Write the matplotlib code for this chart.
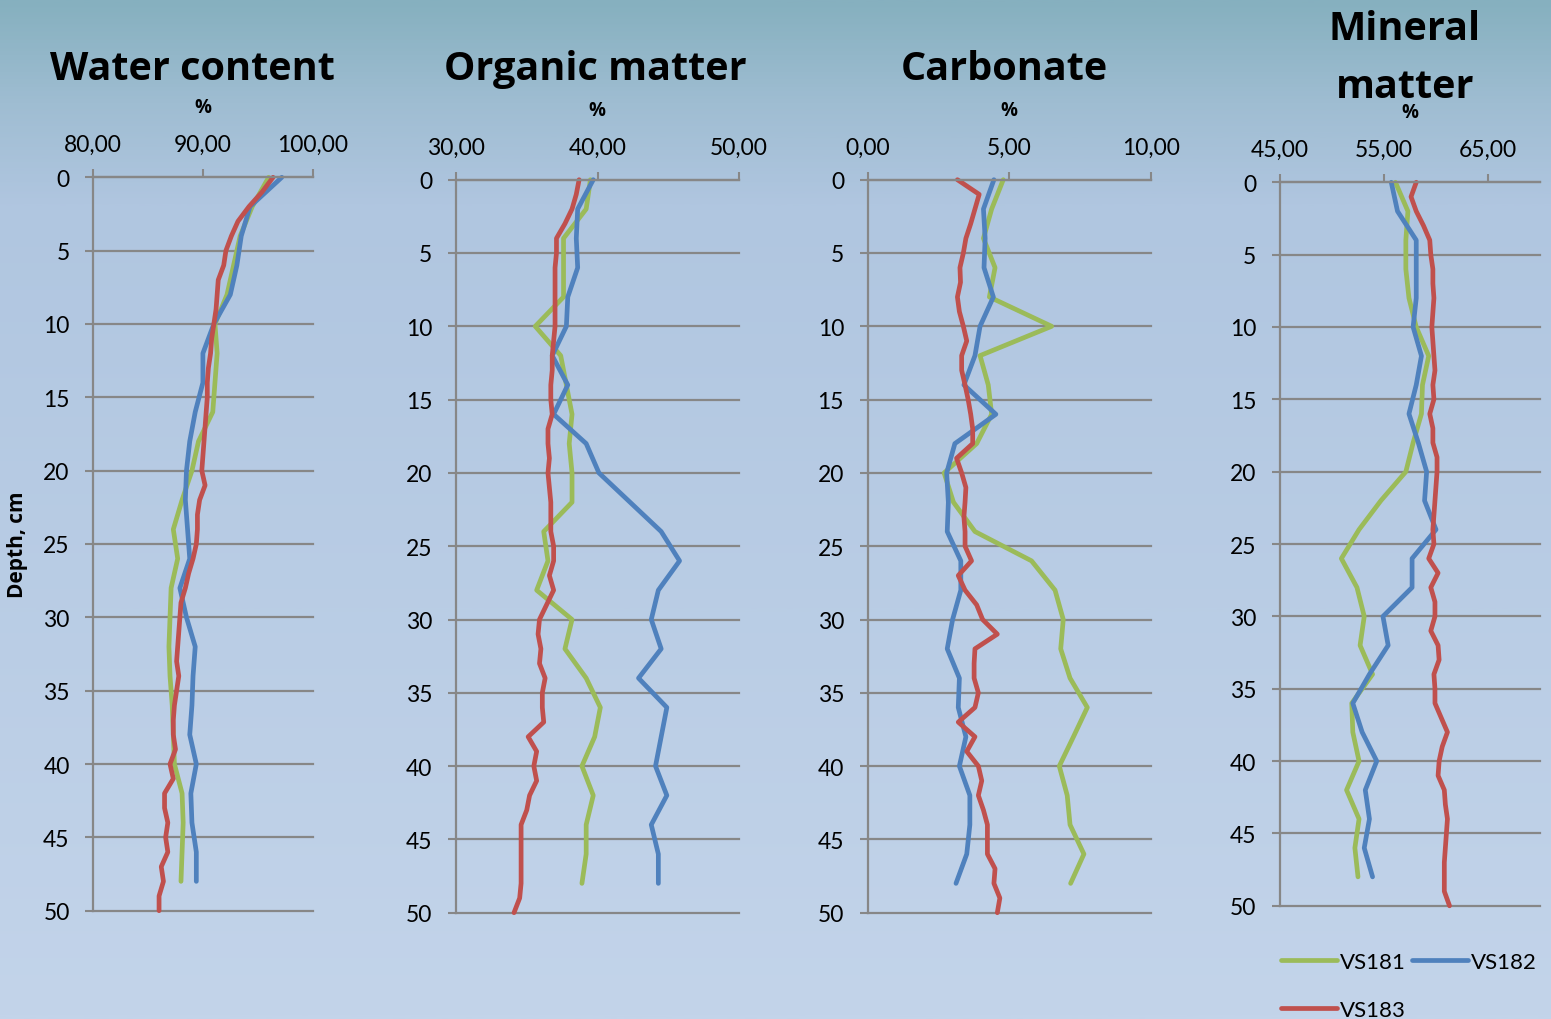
import numpy as np
import matplotlib
matplotlib.use("Agg")
import matplotlib.pyplot as plt
from matplotlib.colors import LinearSegmentedColormap
from matplotlib.lines import Line2D

# ---------------- data ----------------
series_names = ["VS181", "VS182", "VS183"]
series_colors = ["#9BBB59", "#4F81BD", "#C0504D"]

depth_2cm = [0, 2, 4, 6, 8, 10, 12, 14, 16, 18, 20, 22, 24, 26, 28, 30, 32, 34, 36, 38, 40, 42, 44, 46, 48]
depth_1cm = [0, 1, 2, 3, 4, 5, 6, 7, 8, 9, 10, 11, 12, 13, 14, 15, 16, 17, 18, 19, 20, 21, 22, 23, 24, 25,
             26, 27, 28, 29, 30, 31, 32, 33, 34, 35, 36, 37, 38, 39, 40, 41, 42, 43, 44, 45, 46, 47, 48, 49, 50]

water_vs181 = [96.0, 94.5, 93.4, 92.8, 92.2, 91.1, 91.3, 91.1, 90.9, 89.6, 89.0, 88.1, 87.3, 87.7, 87.1,
               87.0, 86.9, 87.0, 87.2, 87.3, 87.4, 88.1, 88.2, 88.1, 88.0]
water_vs182 = [97.2, 94.3, 93.5, 93.1, 92.5, 91.0, 90.0, 90.0, 89.3, 88.8, 88.5, 88.4, 88.6, 88.8, 87.9,
               88.5, 89.3, 89.1, 89.0, 88.8, 89.4, 88.9, 89.0, 89.4, 89.4]
water_vs183 = [96.4, 95.4, 94.2, 93.2, 92.6, 92.1, 91.9, 91.4, 91.3, 91.2,
               91.0, 90.8, 90.7, 90.5, 90.4, 90.4, 90.3, 90.2, 90.1, 90.0,
               89.9, 90.2, 89.7, 89.5, 89.5, 89.4, 89.1, 88.7, 88.4, 88.0,
               87.9, 87.8, 87.7, 87.6, 87.8, 87.6, 87.4, 87.3, 87.3, 87.5,
               87.0, 87.3, 86.5, 86.5, 86.8, 86.6, 86.8, 86.2, 86.4, 86.0, 86.0]

organic_vs181 = [39.5, 39.2, 37.6, 37.6, 37.6, 35.6, 37.4, 37.8, 38.2, 38.0, 38.2, 38.2, 36.2, 36.5, 35.7,
                 38.2, 37.7, 39.2, 40.2, 39.8, 38.9, 39.7, 39.2, 39.2, 38.9]
organic_vs182 = [39.7, 38.6, 38.5, 38.6, 37.9, 37.8, 36.8, 37.9, 36.9, 39.2, 40.1, 42.3, 44.5, 45.8, 44.3,
                 43.8, 44.5, 42.9, 44.9, 44.5, 44.1, 44.9, 43.8, 44.3, 44.3]
organic_vs183 = [38.7, 38.5, 38.2, 37.7, 37.1, 37.1, 37.0, 37.0, 37.0, 37.0,
                 37.0, 36.9, 36.8, 36.8, 36.7, 36.7, 36.8, 36.5, 36.5, 36.6,
                 36.5, 36.6, 36.7, 36.7, 36.7, 36.9, 36.9, 36.6, 36.9, 36.4,
                 35.9, 35.8, 36.0, 35.9, 36.3, 36.1, 36.1, 36.2, 35.1, 35.7,
                 35.5, 35.7, 35.2, 35.0, 34.6, 34.6, 34.6, 34.6, 34.6, 34.5, 34.1]

carbonate_vs181 = [4.79, 4.38, 4.09, 4.50, 4.30, 6.50, 3.97, 4.26, 4.38, 3.85, 2.70, 3.03, 3.79, 5.79, 6.62,
                   6.91, 6.82, 7.15, 7.76, 7.27, 6.77, 7.05, 7.15, 7.64, 7.17]
carbonate_vs182 = [4.46, 4.09, 4.15, 4.11, 4.44, 3.97, 3.79, 3.40, 4.53, 3.08, 2.79, 2.85, 2.81, 3.29, 3.29,
                   3.00, 2.81, 3.24, 3.20, 3.47, 3.24, 3.61, 3.61, 3.50, 3.12]
carbonate_vs183 = [3.17, 3.94, 3.79, 3.64, 3.47, 3.38, 3.26, 3.28, 3.17, 3.24,
                   3.38, 3.50, 3.32, 3.32, 3.44, 3.55, 3.64, 3.71, 3.71, 3.14,
                   3.32, 3.47, 3.44, 3.40, 3.44, 3.44, 3.67, 3.20, 3.44, 3.85,
                   4.06, 4.58, 3.79, 3.76, 3.76, 3.91, 3.79, 3.20, 3.79, 3.50,
                   3.91, 4.03, 3.91, 4.09, 4.23, 4.23, 4.23, 4.50, 4.46, 4.67, 4.58]

mineral_vs181 = [56.1, 57.3, 57.1, 57.1, 57.4, 58.1, 59.3, 58.7, 58.6, 57.8, 57.1, 54.7, 52.6, 50.9, 52.4,
                 53.1, 52.7, 53.9, 51.9, 52.0, 52.6, 51.4, 52.6, 52.2, 52.5]
mineral_vs182 = [55.7, 56.3, 58.1, 58.1, 58.1, 57.8, 58.6, 58.1, 57.4, 58.3, 59.1, 58.9, 60.0, 57.7, 57.7,
                 54.9, 55.4, 53.6, 52.0, 52.9, 54.3, 53.2, 53.6, 53.1, 53.9]
mineral_vs183 = [58.1, 57.6, 58.1, 58.8, 59.4, 59.5, 59.7, 59.7, 59.8, 59.7,
                 59.6, 59.7, 59.8, 59.9, 59.7, 59.8, 59.4, 59.7, 59.7, 60.1,
                 60.1, 60.0, 59.9, 59.8, 59.7, 59.8, 59.3, 60.2, 59.5, 59.9,
                 59.9, 59.5, 60.2, 60.3, 59.8, 59.9, 59.9, 60.5, 61.1, 60.6,
                 60.3, 60.2, 60.8, 60.9, 61.1, 61.0, 60.9, 60.8, 60.8, 60.8, 61.3]

titles = [["Water content"], ["Organic matter"], ["Carbonate"], ["Mineral", "matter"]]
x_ticks = [[80, 90, 100], [30, 40, 50], [0, 5, 10], [45, 55, 65]]
x_limits = [(80, 100), (30, 50), (0, 10), (45, 70)]
depth_ticks = [0, 5, 10, 15, 20, 25, 30, 35, 40, 45, 50]
panel_data = [
    (water_vs181, water_vs182, water_vs183),
    (organic_vs181, organic_vs182, organic_vs183),
    (carbonate_vs181, carbonate_vs182, carbonate_vs183),
    (mineral_vs181, mineral_vs182, mineral_vs183),
]

# ---------------- layout ----------------
W, H = 1551, 1020
fig = plt.figure(figsize=(W / 100, H / 100), dpi=100)

bg = fig.add_axes([0, 0, 1, 1], zorder=-10)
cmap = LinearSegmentedColormap.from_list(
    "bg", [(0, "#86B0BF"), (0.10, "#9FBDD2"), (0.2, "#B0C6E0"), (1, "#C3D4EA")])
bg.imshow(np.linspace(0, 1, 600).reshape(-1, 1), aspect="auto", cmap=cmap,
          extent=[0, 1, 0, 1], origin="upper")
bg.axis("off")

rects = [(93.3, 178.3, 312.5, 911.7), (456, 180.7, 739, 913.7),
         (867.7, 180.7, 1150.7, 913.7), (1280, 183.3, 1540, 906.8)]
title_x = [192, 595, 1004, 1405]
title_baselines = [[80], [80], [80], [40, 98]]
pct_pos = [(203, 113), (597, 116), (1009, 116), (1410, 118)]

GRID = "#878787"
TICKFONT = "Lato"
TITLEFONT = "Open Sans"

for i in range(4):
    x0, y0, x1, y1 = rects[i]
    ax = fig.add_axes([x0 / W, 1 - y1 / H, (x1 - x0) / W, (y1 - y0) / H])
    ax.set_facecolor("none")
    ax.set_xlim(*x_limits[i])
    ax.set_ylim(50, 0)
    ax.xaxis.tick_top()
    ax.set_xticks(x_ticks[i])
    ax.set_xticklabels([f"{v:.2f}".replace(".", ",") for v in x_ticks[i]],
                       fontfamily=TICKFONT, fontsize=16.5)
    ax.set_yticks(depth_ticks)
    ax.set_yticklabels([str(d) for d in depth_ticks], fontfamily=TICKFONT, fontsize=16.5)
    ax.tick_params(axis="both", color=GRID, width=1.5, length=6, direction="out")
    ax.tick_params(axis="x", pad=10)
    ax.tick_params(axis="y", pad=11)
    ax.grid(axis="y", color=GRID, lw=1.6, clip_on=False)
    ax.set_axisbelow(True)
    for s in ["right", "bottom"]:
        ax.spines[s].set_visible(False)
    for s in ["left", "top"]:
        ax.spines[s].set_color(GRID)
        ax.spines[s].set_linewidth(1.6)

    v181, v182, v183 = panel_data[i]
    ax.plot(v181, depth_2cm, color=series_colors[0], lw=3.4, solid_capstyle="round", clip_on=False)
    ax.plot(v182, depth_2cm, color=series_colors[1], lw=3.4, solid_capstyle="round", clip_on=False)
    ax.plot(v183, depth_1cm, color=series_colors[2], lw=3.4, solid_capstyle="round", clip_on=False)

    for line, by in zip(titles[i], title_baselines[i]):
        fig.text(title_x[i] / W, 1 - by / H, line, ha="center", va="baseline",
                 fontsize=28.5, fontweight="bold", fontfamily=TITLEFONT)
    px, py = pct_pos[i]
    fig.text(px / W, 1 - py / H, "%", ha="center", va="baseline",
             fontsize=13.5, fontweight="bold", fontfamily=TITLEFONT)

fig.text(18 / W, 1 - 545 / H, "Depth, cm", rotation=90, ha="center", va="center",
         fontsize=15, fontweight="bold", fontfamily=TITLEFONT)

handles = [Line2D([], [], color=c, lw=3.4, solid_capstyle="round") for c in series_colors]
order = [0, 2, 1]  # column-wise fill: VS181, VS183 | VS182
fig.legend([handles[k] for k in order], [series_names[k] for k in order],
           loc="upper left", bbox_to_anchor=(1281 / W, 1 - 953 / H),
           ncol=2, frameon=False, borderpad=0, borderaxespad=0, handlelength=2.5,
           handletextpad=0.15, columnspacing=0.3, labelspacing=1.25,
           prop={"family": TICKFONT, "size": 16})

fig.savefig("out.png", dpi=100)
